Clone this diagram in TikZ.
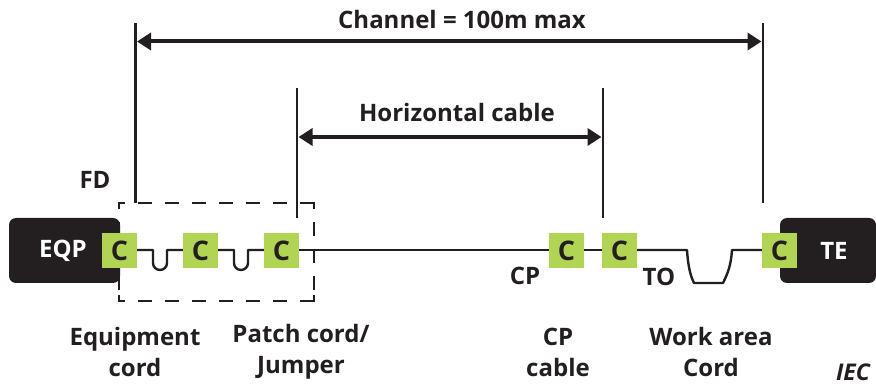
\documentclass[tikz,border=0pt]{standalone}
\usepackage{fontspec}
\setmainfont{Open Sans}
\usetikzlibrary{arrows.meta}
\definecolor{cgreen}{HTML}{B1D553}
\definecolor{boxblack}{HTML}{231F20}
\tikzset{
  conn/.style={fill=cgreen, minimum size=35pt, inner sep=0pt, text=boxblack, font=\fontsize{27}{27}\selectfont\bfseries},
  lab/.style={text=boxblack, align=center, inner sep=0pt, font=\fontsize{24}{31}\selectfont\bfseries},
  cord/.style={draw=boxblack, line width=2.4pt},
  limit/.style={draw=boxblack, line width=2.6pt},
  fdline/.style={draw=boxblack, line width=2.8pt},
  fddash/.style={fdline, dash pattern=on 14pt off 13pt, dash phase=8pt},
  span/.style={draw=boxblack, line width=4pt, {Triangle[length=14pt,width=17pt]}-{Triangle[length=14pt,width=17pt]}}
}
\begin{document}
\begin{tikzpicture}[x=1pt,y=-1pt]
  \useasboundingbox (0,0) rectangle (876,387);

  %% equipment at both ends
  \fill[boxblack, rounded corners=7pt] (9,218) rectangle (120,283);
  \fill[boxblack, rounded corners=7pt] (780,218) rectangle (876,283);
  \node[lab, text=white] (eqp) at (63,251) {EQP};
  \node[lab, text=white] (te) at (834,251) {TE};

  %% FD box
  \draw[fddash] (119,203) -- (308,203);
  \draw[fddash] (119,301) -- (308,301);
  \draw[fddash] (119,203) -- (119,295);
  \draw[fddash] (314,203) -- (314,295);
  \draw[fdline] (119,209) |- (125,203);
  \draw[fdline] (308,203) -| (314,209);
  \draw[fdline] (119,295) |- (125,301);
  \draw[fdline] (308,301) -| (314,295);

  %% connectors
  \node[conn] (c1) at (119.5,250.5) {C};
  \node[conn] (c2) at (200.5,250.5) {C};
  \node[conn] (c3) at (281.5,250.5) {C};
  \node[conn] (c4) at (566.5,250.5) {C};
  \node[conn] (c5) at (619.5,250.5) {C};
  \node[conn] (c6) at (779.5,250.5) {C};

  %% cords
  \draw[cord, line join=round] (c1.east |- 0,250) -- (153,250) -- (153,263) arc[start angle=180, end angle=0, radius=7] -- (167,250) -- (c2.west |- 0,250);
  \draw[cord, line join=round] (c2.east |- 0,250) -- (234,250) -- (234,263) arc[start angle=180, end angle=0, radius=7] -- (248,250) -- (c3.west |- 0,250);
  \draw[cord] (c3.east |- 0,250) -- (c4.west |- 0,250);
  \draw[cord] (c4.east |- 0,250) -- (c5.west |- 0,250);
  \draw[cord, line join=round] (c5.east |- 0,250) -- (687,250) .. controls (688,265) and (690,275) .. (694,283) -- (723,283) .. controls (728,273) and (731,265) .. (732,250) -- (c6.west |- 0,250);

  %% limits
  \coordinate (chl) at (135.5,23);
  \coordinate (chlb) at (135.5,203);
  \coordinate (chr) at (763,23);
  \coordinate (chrb) at (763,203);
  \coordinate (hol) at (297,88);
  \coordinate (holb) at (297,218);
  \coordinate (hor) at (603,88);
  \coordinate (horb) at (603,218);
  \draw[limit] (chl) -- (chlb);
  \draw[limit] (chr) -- (chrb);
  \draw[limit] (hol) -- (holb);
  \draw[limit] (hor) -- (horb);

  %% lengths
  \draw[span] ([xshift=1.5pt,yshift=-18.5pt]chl) -- ([xshift=-1.5pt,yshift=-18.5pt]chr);
  \draw[span] ([xshift=1.5pt,yshift=-49pt]hol) -- ([xshift=-1.5pt,yshift=-49pt]hor);
  \node[lab] (channel) at (462,20) {Channel = 100m max};
  \node[lab] (horizontal) at (457,113) {Horizontal cable};

  %% labels
  \node[lab] (fd) at (95,180) {FD};
  \node[lab] (cp) at (525,276) {CP};
  \node[lab] (to) at (659,277) {TO};
  \node[lab] (eqcord) at (135,352) {Equipment\\cord};
  \node[lab] (patch) at (301,352) {Patch cord/\\Jumper};
  \node[lab] (cpcable) at (558,352) {CP\\cable};
  \node[lab] (workarea) at (711,352) {Work area\\Cord};
  \node[lab, font=\fontsize{23}{23}\selectfont\bfseries\itshape] (iec) at (853,372) {IEC};
\end{tikzpicture}
\end{document}
